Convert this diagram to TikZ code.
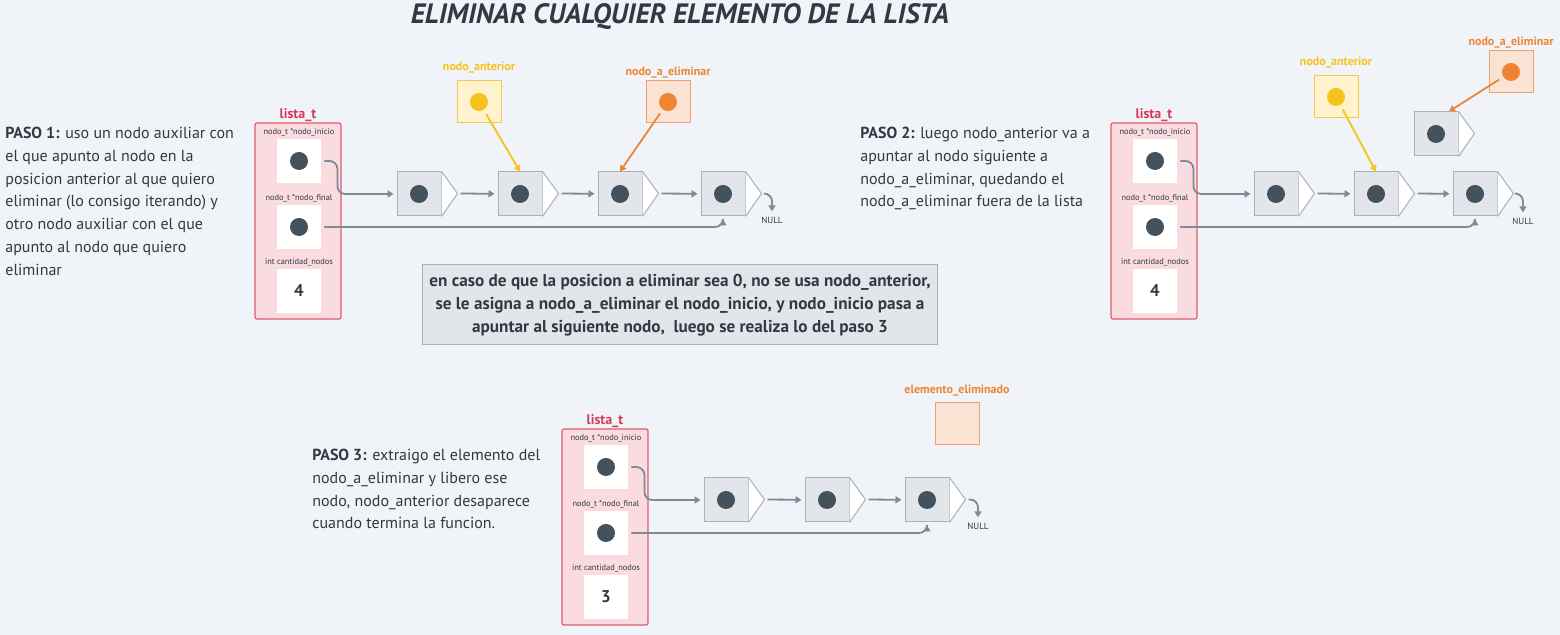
\documentclass[tikz,border=0pt]{standalone}
\usepackage{fontspec}
\setmainfont{PT Sans}
\usetikzlibrary{positioning,arrows.meta}

\definecolor{fondo}{HTML}{F0F3F7}
\definecolor{texto}{HTML}{2F3A45}
\definecolor{listafondo}{HTML}{FADBE0}
\definecolor{listaborde}{HTML}{E05A6E}
\definecolor{listarojo}{HTML}{D83A56}
\definecolor{nodofondo}{HTML}{E2E6EA}
\definecolor{nodoborde}{HTML}{A8B0B8}
\definecolor{punto}{HTML}{44525E}
\definecolor{enlacecol}{HTML}{7D8A97}
\definecolor{amafondo}{HTML}{FFF3CD}
\definecolor{amaborde}{HTML}{F2C94C}
\definecolor{amapunto}{HTML}{F8C21C}
\definecolor{naranfondo}{HTML}{FBE3D4}
\definecolor{naranborde}{HTML}{F0A070}
\definecolor{naranpunto}{HTML}{EE8532}

\tikzset{
  lista/.style={draw=listaborde, fill=listafondo, rounded corners=1pt, line width=0.6pt,
    minimum width=43pt, minimum height=98pt},
  listatit/.style={text=listarojo, font=\fontsize{7}{8}\selectfont\bfseries, inner sep=0pt},
  campo/.style={fill=white, minimum size=22pt, inner sep=0pt},
  cantidad/.style={campo, text=texto, font=\fontsize{8.5}{9}\selectfont\bfseries},
  campotit/.style={text=texto, font=\fontsize{4.2}{5}\selectfont, inner sep=0.5pt},
  puntero/.style={path picture={\fill[#1] (path picture bounding box.center) circle (4.5pt);}},
  puntero/.default=punto,
  nodo/.style={draw=nodoborde, fill=nodofondo, minimum size=22pt, inner sep=0pt, line width=0.5pt, puntero},
  flecha/.style={draw=nodoborde, fill=white, line width=0.5pt, line join=round},
  enlace/.style={draw=enlacecol, line width=0.9pt, -{Triangle[length=3pt,width=3.5pt]},
    shorten <=1.5pt, shorten >=1.5pt, rounded corners=4pt},
  nulo/.style={text=texto, font=\fontsize{4.5}{5}\selectfont, inner sep=1pt},
  ama/.style={draw=amaborde, fill=amafondo, minimum width=22pt, minimum height=21pt, inner sep=0pt,
    line width=0.5pt},
  naran/.style={draw=naranborde, fill=naranfondo, minimum width=22pt, minimum height=21pt, inner sep=0pt,
    line width=0.5pt},
  amatit/.style={text=amapunto, font=\fontsize{6}{7}\selectfont\bfseries, inner sep=0pt},
  marantit/.style={text=naranpunto, font=\fontsize{6}{7}\selectfont\bfseries, inner sep=0pt},
  amaenlace/.style={draw=amapunto, line width=0.9pt, -{Triangle[length=3pt,width=3.5pt]}, shorten <=7pt},
  naranenlace/.style={draw=naranpunto, line width=0.9pt, -{Triangle[length=3pt,width=3.5pt]}, shorten <=7pt},
  paso/.style={text=texto, font=\fontsize{8}{11.35}\selectfont, align=left, inner sep=0pt, anchor=north west},
  nota/.style={draw=nodoborde, fill=nodofondo, text=texto, font=\fontsize{8.6}{11.5}\selectfont\bfseries,
    align=center, minimum width=255pt, minimum height=40pt, line width=0.5pt}
}

\begin{document}
\begin{tikzpicture}[x=0.5pt, y=-0.5pt]
    \fill[fondo] (0,0) rectangle (1560,635);
    \useasboundingbox (0,0) rectangle (1560,635);

    \node [text=texto, font=\fontsize{14}{16}\selectfont\bfseries\itshape] (titulo) at (680,17)
        {ELIMINAR CUALQUIER ELEMENTO DE LA LISTA};

    % paso 1
    \node [paso] (p1) at (5,127) {\textbf{PASO 1:} uso un nodo auxiliar con\\el que apunto al nodo en la\\posicion anterior al que quiero\\eliminar (lo consigo iterando) y\\otro nodo auxiliar con el que\\apunto al nodo que quiero\\eliminar};
    \node [lista] (l1) at (298,221) {};
    \node [listatit, above=0pt of l1] (l1t) {lista\_t};
    \node [campo, puntero] (l1i) at (299,161) {};
    \node [campo, puntero] (l1f) at (299,227) {};
    \node [cantidad] (l1c) at (299,291) {4};
    \node [campotit, above=0.5pt of l1i] {nodo\_t *nodo\_inicio};
    \node [campotit, above=0.5pt of l1f] {nodo\_t *nodo\_final};
    \node [campotit, above=0.5pt of l1c] {int cantidad\_nodos};
    \node [nodo] (a1) at (419,194) {};
    \node [nodo] (a2) at (520,194) {};
    \node [nodo] (a3) at (620,194) {};
    \node [nodo] (a4) at (723,194) {};
    \draw [flecha] (a1.north east) -- ++(8pt,-11pt) coordinate (a1p) -- (a1.south east);
    \draw [flecha] (a2.north east) -- ++(8pt,-11pt) coordinate (a2p) -- (a2.south east);
    \draw [flecha] (a3.north east) -- ++(8pt,-11pt) coordinate (a3p) -- (a3.south east);
    \draw [flecha] (a4.north east) -- ++(8pt,-11pt) coordinate (a4p) -- (a4.south east);
    \node [nulo] (null1) at (772,220) {NULL};
    \draw [enlace] (l1i.east) -- ++(16,0) |- (a1);
    \draw [enlace] (a1p) -- (a2);
    \draw [enlace] (a2p) -- (a3);
    \draw [enlace] (a3p) -- (a4);
    \draw [enlace] (a4p) -| (null1);
    \draw [enlace] (l1f.east) -| (a4);
    \node [ama, puntero=amapunto] (ant1) at (479,102) {};
    \node [amatit, above=3.5pt of ant1] {nodo\_anterior};
    \node [naran, puntero=naranpunto] (eli1) at (668,102) {};
    \node [marantit, above=1pt of eli1] {nodo\_a\_eliminar};
    \draw [amaenlace] (ant1.center) -- (a2.north);
    \draw [naranenlace] (eli1.center) -- (a3.north);

    \node [nota] (nota) at (680,305) {en caso de que la posicion a eliminar sea 0, no se usa nodo\_anterior,\\se le asigna a nodo\_a\_eliminar el nodo\_inicio, y nodo\_inicio pasa a\\apuntar al siguiente nodo,\ \ luego se realiza lo del paso 3};

    % paso 2
    \node [paso] (p2) at (860,127) {\textbf{PASO 2:} luego nodo\_anterior va a\\apuntar al nodo siguiente a\\nodo\_a\_eliminar, quedando el\\nodo\_a\_eliminar fuera de la lista};
    \node [lista] (l2) at (1154,221) {};
    \node [listatit, above=0pt of l2] (l2t) {lista\_t};
    \node [campo, puntero] (l2i) at (1155,161) {};
    \node [campo, puntero] (l2f) at (1155,227) {};
    \node [cantidad] (l2c) at (1155,291) {4};
    \node [campotit, above=0.5pt of l2i] {nodo\_t *nodo\_inicio};
    \node [campotit, above=0.5pt of l2f] {nodo\_t *nodo\_final};
    \node [campotit, above=0.5pt of l2c] {int cantidad\_nodos};
    \node [nodo] (b1) at (1276,194) {};
    \node [nodo] (b2) at (1376,194) {};
    \node [nodo] (b3) at (1475,194) {};
    \node [nodo] (bx) at (1436,134) {};
    \draw [flecha] (b1.north east) -- ++(8pt,-11pt) coordinate (b1p) -- (b1.south east);
    \draw [flecha] (b2.north east) -- ++(8pt,-11pt) coordinate (b2p) -- (b2.south east);
    \draw [flecha] (b3.north east) -- ++(8pt,-11pt) coordinate (b3p) -- (b3.south east);
    \draw [flecha] (bx.north east) -- ++(8pt,-11pt) coordinate (bxp) -- (bx.south east);
    \node [nulo] (null2) at (1523,221) {NULL};
    \draw [enlace] (l2i.east) -- ++(16,0) |- (b1);
    \draw [enlace] (b1p) -- (b2);
    \draw [enlace] (b2p) -- (b3);
    \draw [enlace] (b3p) -| (null2);
    \draw [enlace] (l2f.east) -| (b3);
    \node [ama, puntero=amapunto] (ant2) at (1336,97) {};
    \node [amatit, above=3.5pt of ant2] {nodo\_anterior};
    \node [naran, puntero=naranpunto] (eli2) at (1511,72) {};
    \node [marantit, above=1pt of eli2] {nodo\_a\_eliminar};
    \draw [amaenlace] (ant2.center) -- (b2.north);
    \draw [naranenlace] (eli2.center) -- (bx.60);

    % paso 3
    \node [paso] (p3) at (312,449) {\textbf{PASO 3:} extraigo el elemento del\\nodo\_a\_eliminar y libero ese\\nodo, nodo\_anterior desaparece\\cuando termina la funcion.};
    \node [lista] (l3) at (605,527) {};
    \node [listatit, above=0pt of l3] (l3t) {lista\_t};
    \node [campo, puntero] (l3i) at (606,467) {};
    \node [campo, puntero] (l3f) at (606,533) {};
    \node [cantidad] (l3c) at (606,597) {3};
    \node [campotit, above=0.5pt of l3i] {nodo\_t *nodo\_inicio};
    \node [campotit, above=0.5pt of l3f] {nodo\_t *nodo\_final};
    \node [campotit, above=0.5pt of l3c] {int cantidad\_nodos};
    \node [nodo] (c1) at (726,500) {};
    \node [nodo] (c2) at (827,500) {};
    \node [nodo] (c3) at (927,500) {};
    \draw [flecha] (c1.north east) -- ++(8pt,-11pt) coordinate (c1p) -- (c1.south east);
    \draw [flecha] (c2.north east) -- ++(8pt,-11pt) coordinate (c2p) -- (c2.south east);
    \draw [flecha] (c3.north east) -- ++(8pt,-11pt) coordinate (c3p) -- (c3.south east);
    \node [nulo] (null3) at (978,526) {NULL};
    \draw [enlace] (l3i.east) -- ++(16,0) |- (c1);
    \draw [enlace] (c1p) -- (c2);
    \draw [enlace] (c2p) -- (c3);
    \draw [enlace] (c3p) -| (null3);
    \draw [enlace] (l3f.east) -| (c3);
    \node [naran] (elem) at (957,424) {};
    \node [marantit, above=3pt of elem] {elemento\_eliminado};
\end{tikzpicture}
\end{document}
